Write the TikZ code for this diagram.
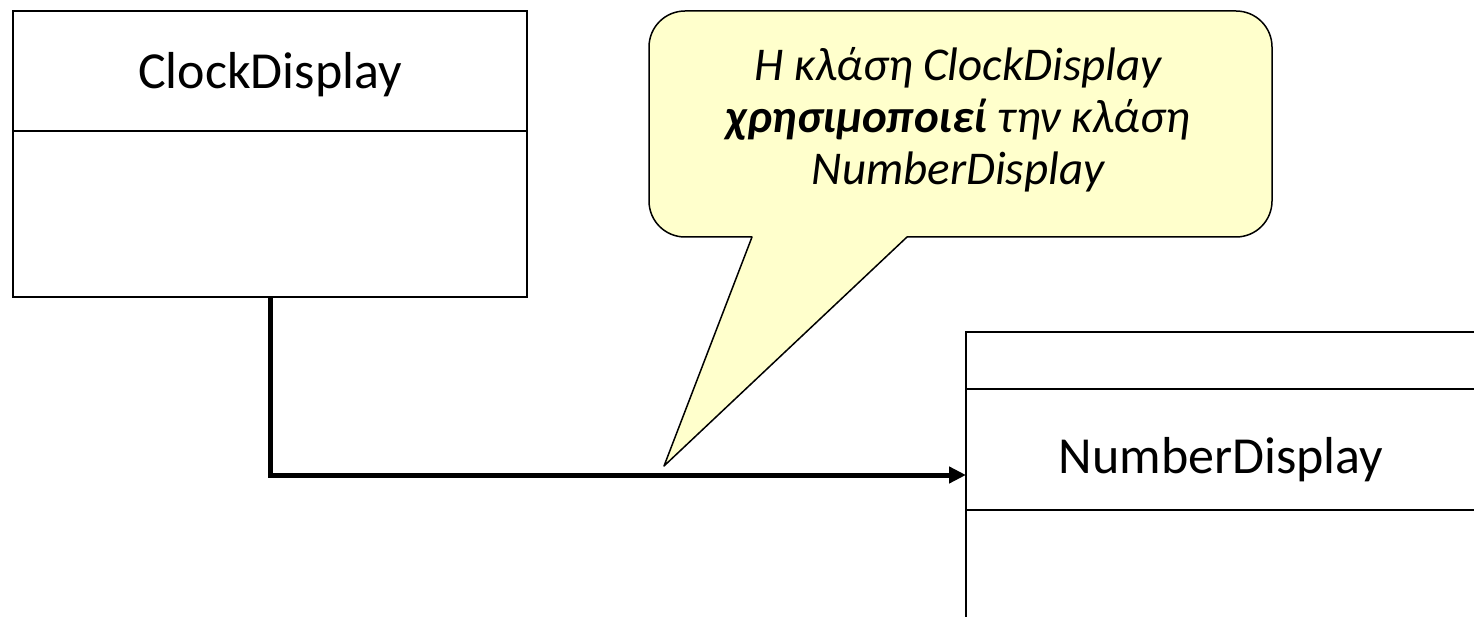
\documentclass[tikz,border=0pt]{standalone}
\usepackage{fontspec}
\setmainfont{Carlito}
\usetikzlibrary{arrows.meta,calc}
\definecolor{notefill}{RGB}{255,255,204}
\begin{document}
\begin{tikzpicture}[x=1pt,y=1pt,
  compartment/.style={draw, line width=2pt, inner sep=0pt, outer sep=0pt,
    font=\fontsize{52}{62}\selectfont},
  usesline/.style={line width=5pt, -{Triangle[length=17pt,width=16pt]}},
  notebox/.style={draw, line width=1.5pt, fill=notefill, line join=round},
  notetext/.style={font=\fontsize{47}{52}\selectfont\itshape, align=center, inner sep=0pt}]
\useasboundingbox (0,0) rectangle (1474,616);
\begin{scope}
\clip (0,0) rectangle (1474,616);

% class ClockDisplay
\node[compartment, minimum width=514pt, minimum height=120pt,
      text height=36pt, text depth=0pt, anchor=north west] (cdname) at (13,605) {ClockDisplay};
\node[compartment, minimum width=514pt, minimum height=166pt, anchor=north] (cdbody) at (cdname.south) {};

% class NumberDisplay (runs off the right and bottom edges)
\node[compartment, minimum width=510pt, minimum height=57pt, anchor=north west] (ndtop) at (966,284) {};
\node[compartment, minimum width=510pt, minimum height=121pt,
      text height=47pt, text depth=0pt, anchor=north] (ndname) at (ndtop.south) {NumberDisplay};
\node[compartment, minimum width=510pt, minimum height=130pt, anchor=north] (ndbody) at (ndname.south) {};

% association arrow
\coordinate (hit) at ($(ndname.south west)+(0,35)$);
\draw[usesline] (cdbody.south) |- (hit);

% speech bubble pointing at the association
\coordinate (tip) at (664,150);
\draw[notebox] (752,379) -- (tip) -- (907,379) -- (1236,379)
  arc[start angle=270, end angle=360, radius=36] -- (1272,569)
  arc[start angle=0, end angle=90, radius=36] -- (685,605)
  arc[start angle=90, end angle=180, radius=36] -- (649,415)
  arc[start angle=180, end angle=270, radius=36] -- cycle;
\node[notetext] (note) at (958,496)
  {Η κλάση ClockDisplay\\\textbf{χρησιμοποιεί} την κλάση\\NumberDisplay};
\end{scope}
\end{tikzpicture}
\end{document}
